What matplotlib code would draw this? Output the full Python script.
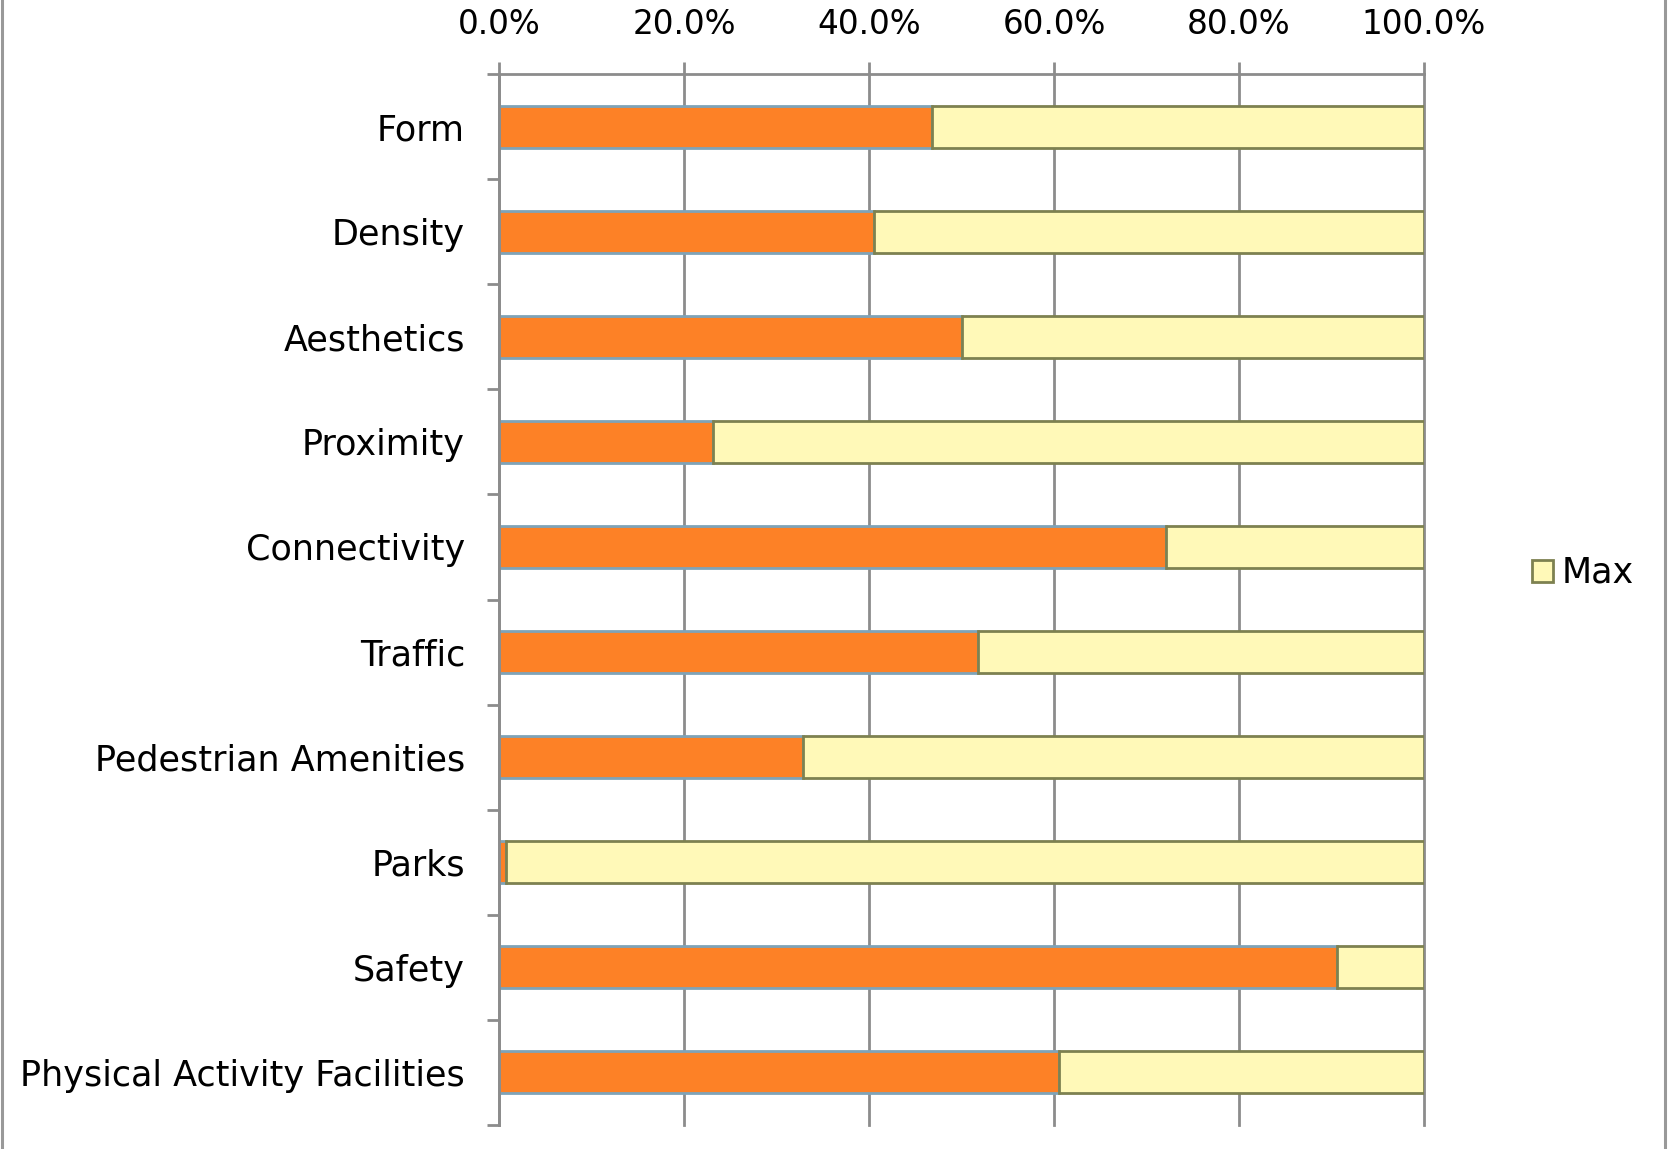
import matplotlib
matplotlib.use("Agg")
import matplotlib.pyplot as plt
from matplotlib.lines import Line2D
from matplotlib.ticker import FuncFormatter, FixedLocator
import numpy as np

plt.rcParams['font.family'] = ['DejaVu Sans']

# Share of the maximum score reached per walkability component
categories = ["Form", "Density", "Aesthetics", "Proximity", "Connectivity",
              "Traffic", "Pedestrian Amenities", "Parks", "Safety",
              "Physical Activity Facilities"]
score_pct = [46.8, 40.5, 50.1, 23.1, 72.1, 51.8, 32.9, 0.8, 90.6, 60.5]
max_pct = [100 - v for v in score_pct]
x_ticks = [0, 20, 40, 60, 80, 100]

ORANGE = "#FD8126"
ORANGE_EDGE = "#7FA3B8"
YELLOW = "#FFF9B8"
YELLOW_EDGE = "#7D8150"
GRID = "#8C8C8C"
FS_TICK = 23.5
FS_CAT = 25.2

fig = plt.figure(figsize=(16.76, 11.49), dpi=100)
ax = fig.add_axes([499 / 1676, 1 - 1125 / 1149, 925 / 1676, 1051 / 1149])

y = np.arange(len(categories))
ax.barh(y, score_pct, height=0.4, color=ORANGE, edgecolor=ORANGE_EDGE,
        linewidth=2.0, zorder=3)
max_bars = ax.barh(y, max_pct, left=score_pct, height=0.4, color=YELLOW,
                   edgecolor=YELLOW_EDGE, linewidth=2.0, zorder=3, label="Max")

ax.set_xlim(0, 100)
ax.set_ylim(len(categories) - 0.5, -0.5)

# x axis on top with percentage labels and vertical gridlines
ax.xaxis.set_ticks_position("top")
ax.xaxis.set_label_position("top")
ax.set_xticks(x_ticks)
ax.xaxis.set_major_formatter(FuncFormatter(lambda v, p: f"{v:.1f}%"))
ax.tick_params(axis="x", direction="out", length=8.6, width=2.0, color=GRID,
               pad=15, labelsize=FS_TICK, labelcolor="black")
ax.grid(axis="x", color=GRID, linewidth=2.0, zorder=0)
for gl in ax.get_xgridlines():
    gl.set_clip_on(False)

# category labels centred, tick marks at category boundaries
ax.set_yticks(y)
ax.set_yticklabels(categories)
ax.yaxis.set_minor_locator(FixedLocator(np.arange(-0.5, len(categories), 1.0)))
ax.tick_params(axis="y", which="major", length=0, pad=24.5, labelsize=FS_CAT)
ax.tick_params(axis="y", which="minor", direction="out", length=8.6,
               width=2.0, color=GRID)

for side in ("right", "bottom"):
    ax.spines[side].set_visible(False)
for side in ("left", "top"):
    ax.spines[side].set_color(GRID)
    ax.spines[side].set_linewidth(2.0)
    ax.spines[side].set_zorder(4)

leg = fig.legend(handles=[max_bars], labels=["Max"], loc="center left",
                 bbox_to_anchor=(1532 / 1676, 1 - 573 / 1149), frameon=False,
                 fontsize=FS_CAT, handlelength=0.6, handleheight=0.6,
                 handletextpad=0.25, borderpad=0, borderaxespad=0)

# chart area border on the left and right edges
fig.add_artist(Line2D([1.5 / 1676, 1.5 / 1676], [0, 1], color="#999999",
                      linewidth=2.2, transform=fig.transFigure))
fig.add_artist(Line2D([1664.5 / 1676, 1664.5 / 1676], [0, 1], color="#999999",
                      linewidth=2.2, transform=fig.transFigure))

fig.savefig("out.png", dpi=100, facecolor="white")
